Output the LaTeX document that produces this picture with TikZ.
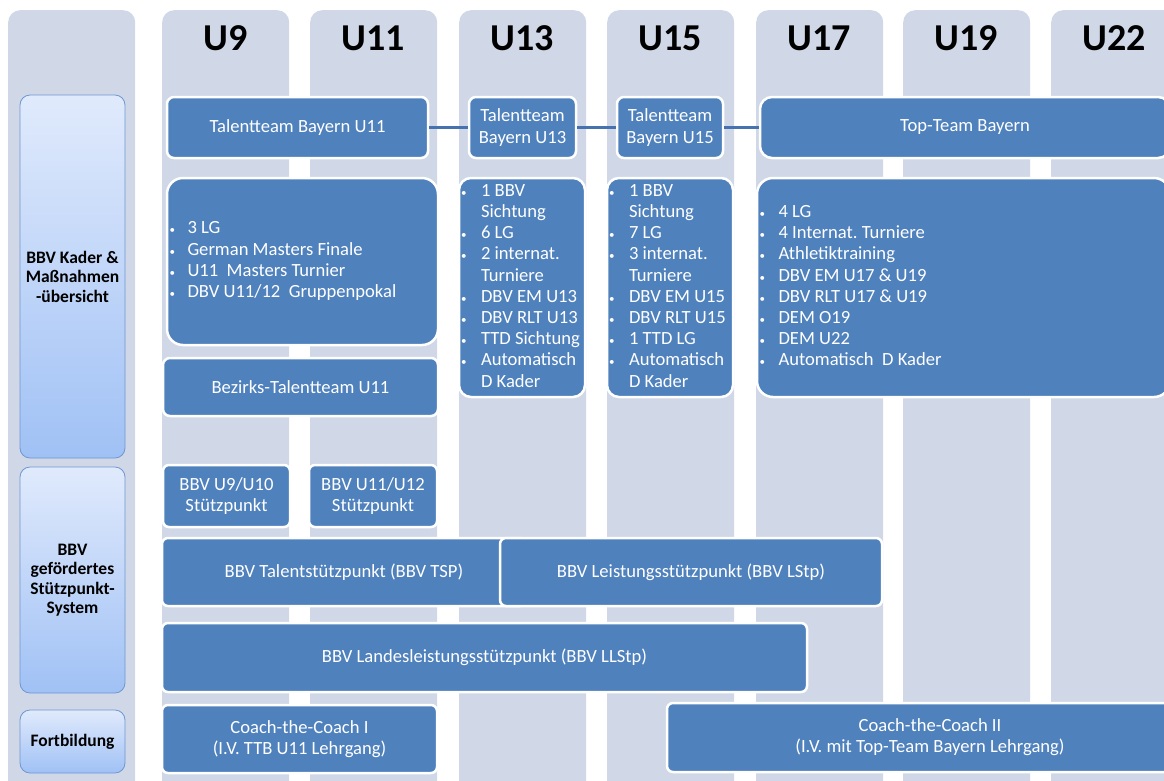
\documentclass[tikz,border=0pt]{standalone}
\usepackage{fontspec}
\setmainfont{Carlito}
\frenchspacing
\definecolor{colbg}{RGB}{208,216,232}
\definecolor{boxblue}{RGB}{79,129,189}
\definecolor{linkblue}{RGB}{70,114,176}
\definecolor{sideborder}{RGB}{110,150,210}
\definecolor{sidetop}{RGB}{224,234,252}
\definecolor{sidebot}{RGB}{160,193,245}
\newcommand\mybul{{\fontsize{11}{11}\selectfont\textbullet}}
\newcommand\normspace{\spaceskip=0pt\relax\xspaceskip=0pt\relax\frenchspacing}
\begin{document}
\begin{tikzpicture}[x=1pt,y=-1pt,
  colbox/.style={fill=colbg, draw=none, rounded corners=12pt, minimum width=127pt, minimum height=790pt, anchor=north west, inner sep=0pt},
  head/.style={font=\bfseries\fontsize{38}{40}\selectfont, inner sep=0pt},
  box/.style={fill=boxblue, draw=white, line width=2.5pt, rounded corners=7pt, text=white,
    font=\fontsize{18.6}{21.2}\selectfont, align=center, inner sep=0pt},
  listbox/.style={box, rounded corners=16pt, align=left},
  side/.style={draw=sideborder, line width=0.8pt, top color=sidetop, bottom color=sidebot,
    rounded corners=10pt, font=\bfseries\fontsize{17.5}{19.5}\selectfont, align=center,
    inner sep=0pt, minimum width=105pt},
  link/.style={draw=linkblue, line width=3pt}]
\useasboundingbox (0,0) rectangle (1164,780);
\clip (0,0) rectangle (1164,780);
\fill[white] (0,0) rectangle (1164,780);

% column backgrounds
\node[colbox] (cl) at (8,10) {};
\node[colbox] (c9) at (162,10) {};
\node[colbox] (c11) at (310,10) {};
\node[colbox] (c13) at (459,10) {};
\node[colbox] (c15) at (607,10) {};
\node[colbox] (c17) at (756,10) {};
\node[colbox] (c19) at (903,10) {};
\node[colbox] (c22) at (1051,10) {};

% headers
\node[head] (h9) at (225.5,38) {U9};
\node[head] (h11) at (373.5,38) {U11};
\node[head] (h13) at (522.5,38) {U13};
\node[head] (h15) at (670.5,38) {U15};
\node[head] (h17) at (819.5,38) {U17};
\node[head] (h19) at (966.5,38) {U19};
\node[head] (h22) at (1114.5,38) {U22};

% left side boxes
\node[side, minimum height=363pt] (kader) at (72.5,276.5) {BBV Kader \&\\Maßnahmen\\-übersicht};
\node[side, minimum height=226pt] (stp) at (72.5,580) {BBV\\gefördertes\\Stützpunkt-\\System};
\node[side, minimum height=63pt] (fort) at (72.5,741.5) {Fortbildung};

% row 1
\node[box, minimum width=261pt, minimum height=61pt] (tt11) at (297.5,127.5) {Talentteam Bayern U11};
\node[box, minimum width=107pt, minimum height=61pt] (tt13) at (522.5,127.5) {Talentteam\\Bayern U13};
\node[box, minimum width=106pt, minimum height=61pt] (tt15) at (670,127.5) {Talentteam\\Bayern U15};
\node[box, minimum width=410pt, minimum height=61pt, rounded corners=12pt] (top) at (965,127.5) {Top-Team Bayern};
\draw[link] (tt11.east) -- (tt13.west);
\draw[link] (tt13.east) -- (tt15.west);
\draw[link] (tt15.east) -- (top.west);

% row 2 lists
\node[listbox, minimum width=271pt, minimum height=167pt, text width=266pt] (l9) at (302.5,261.5) {\normspace
\begin{tabular}{@{}p{18pt}@{}l@{}}
\mybul & 3 LG\\
\mybul & German Masters Finale\\
\mybul & U11~ Masters Turnier\\
\mybul & DBV U11/12~ Gruppenpokal
\end{tabular}};
\node[listbox, rounded corners=12pt, minimum width=126pt, minimum height=219pt, text width=122pt] (l13) at (522,287.5) {\normspace
\begin{tabular}{@{}p{20pt}@{}l@{}}
\mybul & 1 BBV\\
 & Sichtung\\
\mybul & 6 LG\\
\mybul & 2 internat.\\
 & Turniere\\
\mybul & DBV EM U13\\
\mybul & DBV RLT U13\\
\mybul & TTD Sichtung\\
\mybul & Automatisch\\
 & D Kader
\end{tabular}};
\node[listbox, rounded corners=12pt, minimum width=126pt, minimum height=219pt, text width=122pt] (l15) at (670,287.5) {\normspace
\begin{tabular}{@{}p{20pt}@{}l@{}}
\mybul & 1 BBV\\
 & Sichtung\\
\mybul & 7 LG\\
\mybul & 3 internat.\\
 & Turniere\\
\mybul & DBV EM U15\\
\mybul & DBV RLT U15\\
\mybul & 1 TTD LG\\
\mybul & Automatisch\\
 & D Kader
\end{tabular}};
\node[listbox, minimum width=413pt, minimum height=219pt, text width=408pt] (l17) at (963.5,287.5) {\normspace
\begin{tabular}{@{}p{19pt}@{}l@{}}
\mybul & 4 LG\\
\mybul & 4 Internat. Turniere\\
\mybul & Athletiktraining\\
\mybul & DBV EM U17 \& U19\\
\mybul & DBV RLT U17 \& U19\\
\mybul & DEM O19\\
\mybul & DEM U22\\
\mybul & Automatisch~ D Kader
\end{tabular}};
\node[box, minimum width=275pt, minimum height=58pt] (bez) at (300.5,387) {Bezirks-Talentteam U11};

% row 3
\node[box, rounded corners=6pt, minimum width=127pt, minimum height=62pt] (sp9) at (226.5,496) {BBV U9/U10\\Stützpunkt};
\node[box, rounded corners=6pt, minimum width=128pt, minimum height=62pt] (sp11) at (373,496) {BBV U11/U12\\Stützpunkt};
\node[box, rounded corners=6pt, minimum width=364pt, minimum height=68pt] (tsp) at (344,572) {BBV Talentstützpunkt (BBV TSP)};
\node[box, rounded corners=6pt, minimum width=382pt, minimum height=68pt] (lstp) at (691,572) {BBV Leistungsstützpunkt (BBV LStp)};
\node[box, rounded corners=6pt, minimum width=645pt, minimum height=69pt] (llstp) at (484.5,657.5) {BBV Landesleistungsstützpunkt (BBV LLStp)};

% row 4
\node[box, rounded corners=6pt, minimum width=275pt, minimum height=68pt] (ctc1) at (299.5,739) {Coach-the-Coach I\\(I.V. TTB U11 Lehrgang)};
\node[box, rounded corners=6pt, minimum width=526pt, minimum height=69pt] (ctc2) at (930,737.5) {Coach-the-Coach II\\(I.V. mit Top-Team Bayern Lehrgang)};
\end{tikzpicture}
\end{document}
